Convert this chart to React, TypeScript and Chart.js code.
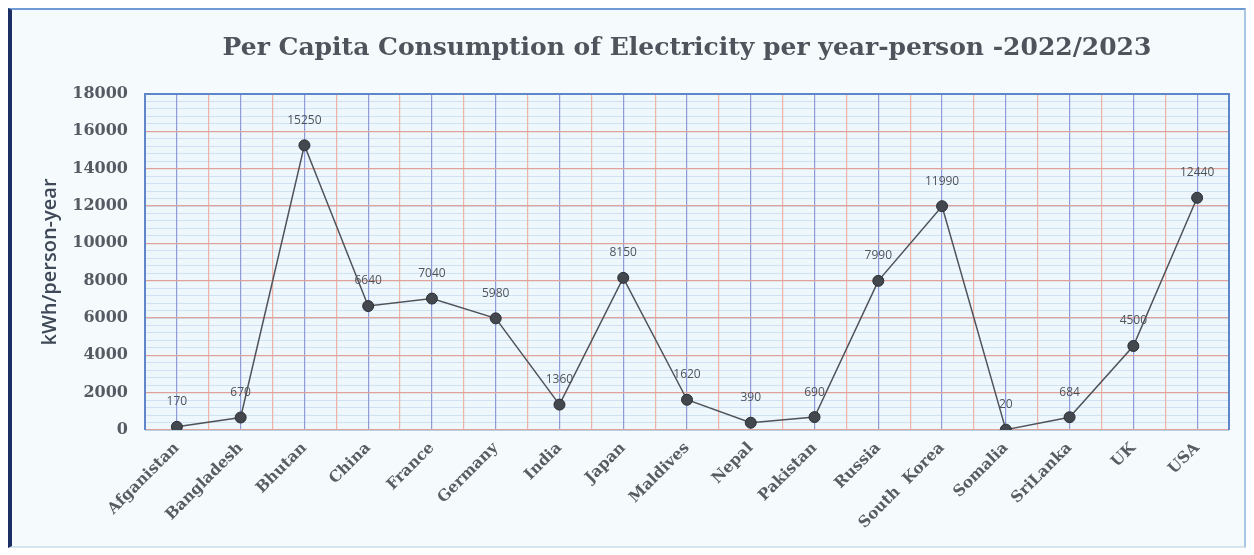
import { useEffect, useRef } from 'react';
import { Chart, registerables } from 'chart.js';

Chart.register(...registerables);

const categories = [
  'Afganistan', 'Bangladesh', 'Bhutan', 'China', 'France', 'Germany', 'India', 'Japan',
  'Maldives', 'Nepal', 'Pakistan', 'Russia', 'South  Korea', 'Somalia', 'SriLanka', 'UK', 'USA',
];
const consumption = [170, 670, 15250, 6640, 7040, 5980, 1360, 8150, 1620, 390, 690, 7990, 11990, 20, 684, 4500, 12440];
const valueLabels = ['170', '670', '15250', '6640', '7040', '5980', '1360', '8150', '1620', '390', '690', '7990', '11990', '20', '684', '4500', '12440'];
const yMin = 0;
const yMax = 18000;
const yMajorStep = 2000;
const yMinorStep = 400;
const titleText = 'Per Capita Consumption of Electricity per year-person -2022/2023';
const yAxisTitle = 'kWh/person-year';

const plotFramePlugin = {
  id: 'plotFrame',
  beforeDraw(chart: any) {
    const { ctx, chartArea: a } = chart;
    ctx.save();
    ctx.fillStyle = '#edf7fc';
    ctx.fillRect(a.left, a.top, a.right - a.left, a.bottom - a.top);
    ctx.restore();
  },
  beforeDatasetsDraw(chart: any) {
    const { ctx, chartArea: a } = chart;
    ctx.save();
    ctx.lineWidth = 1;
    ctx.strokeStyle = '#b8d0e4';
    ctx.beginPath();
    ctx.moveTo(a.left, a.bottom + 0.5);
    ctx.lineTo(a.right, a.bottom + 0.5);
    ctx.stroke();
    ctx.lineWidth = 2;
    ctx.strokeStyle = '#5f86c8';
    ctx.beginPath();
    ctx.moveTo(a.left, a.bottom);
    ctx.lineTo(a.left, a.top);
    ctx.lineTo(a.right, a.top);
    ctx.lineTo(a.right, a.bottom);
    ctx.stroke();
    ctx.restore();
  },
  afterDraw(chart: any) {
    const { ctx, chartArea: a } = chart;
    ctx.save();
    ctx.font = 'bold 25px "DejaVu Serif"';
    ctx.fillStyle = '#4f545c';
    ctx.textAlign = 'center';
    ctx.textBaseline = 'middle';
    ctx.fillText(titleText, (a.left + a.right) / 2, 38);
    ctx.restore();
  },
};

const valueLabelPlugin = {
  id: 'valueLabels',
  afterDatasetsDraw(chart: any) {
    const { ctx } = chart;
    const meta = chart.getDatasetMeta(0);
    ctx.save();
    ctx.font = '12px "Open Sans"';
    ctx.fillStyle = '#4f545b';
    ctx.textAlign = 'center';
    ctx.textBaseline = 'middle';
    meta.data.forEach((pt: any, i: number) => {
      ctx.fillText(valueLabels[i], pt.x, pt.y - 25);
    });
    ctx.restore();
  },
};

export default function App() {
  const ref = useRef<HTMLCanvasElement>(null);

  useEffect(() => {
    if (!ref.current) return;
    const chart = new Chart(ref.current, {
      type: 'line',
      data: {
        labels: categories,
        datasets: [
          {
            data: consumption,
            borderColor: '#50545a',
            borderWidth: 1.5,
            pointBackgroundColor: '#43474e',
            pointBorderColor: '#2c2f34',
            pointBorderWidth: 1,
            pointRadius: 5.5,
            tension: 0,
            xAxisID: 'x',
            yAxisID: 'y',
          },
        ],
      },
      options: {
        responsive: false,
        animation: false,
        events: [],
        layout: { padding: { left: 0, right: 15, top: 84, bottom: 0 } },
        plugins: {
          legend: { display: false },
          tooltip: { enabled: false },
          title: { display: false },
        },
        scales: {
          yMinor: {
            type: 'linear',
            position: 'left',
            min: yMin,
            max: yMax,
            ticks: { display: false, stepSize: yMinorStep },
            grid: { color: '#cfe1f2', lineWidth: 1, drawTicks: false, z: -3 },
            border: { display: false },
            afterFit: (s: any) => { s.width = 0; },
          },
          xCenter: {
            type: 'category',
            position: 'bottom',
            offset: true,
            ticks: { display: false },
            grid: { offset: false, color: '#8f9bd8', lineWidth: 1.2, drawTicks: false, z: -2 },
            border: { display: false },
            afterFit: (s: any) => { s.height = 0; },
          },
          x: {
            type: 'category',
            position: 'bottom',
            offset: true,
            grid: { offset: true, color: '#eeb2a6', lineWidth: 1.2, drawTicks: false, z: -2 },
            border: { display: false },
            ticks: {
              autoSkip: false,
              maxRotation: 45,
              minRotation: 45,
              padding: 9,
              color: '#585d64',
              font: { family: '"DejaVu Serif"', size: 15.5, weight: 'bold' },
            },
            afterFit: (s: any) => { s.height = 116; },
          },
          y: {
            type: 'linear',
            position: 'left',
            min: yMin,
            max: yMax,
            ticks: {
              stepSize: yMajorStep,
              padding: 17,
              color: '#555a63',
              font: { family: '"DejaVu Serif"', size: 16, weight: 'bold' },
              callback: (v: any) => String(v),
            },
            grid: { color: '#dfa39c', lineWidth: 1.2, drawTicks: false, z: -2 },
            border: { display: false },
            title: {
              display: true,
              text: yAxisTitle,
              color: '#3f4857',
              font: { family: '"Open Sans"', size: 20, weight: '600' },
              padding: { top: 26, bottom: 0 },
            },
            afterFit: (s: any) => { s.width = 133; },
          },
        },
      },
      plugins: [plotFramePlugin, valueLabelPlugin],
    });
    return () => chart.destroy();
  }, []);

  return (
    <div
      style={{
        width: 1238,
        height: 540,
        boxSizing: 'border-box',
        borderLeft: '4px solid #1c2e63',
        borderTop: '2px solid #6f9ad6',
        borderRight: '2px solid #a9c6e2',
        borderBottom: '2px solid #d6e4ee',
        background: '#f5fbfd',
      }}
    >
      <canvas ref={ref} width={1232} height={536} style={{ display: 'block' }} />
    </div>
  );
}
